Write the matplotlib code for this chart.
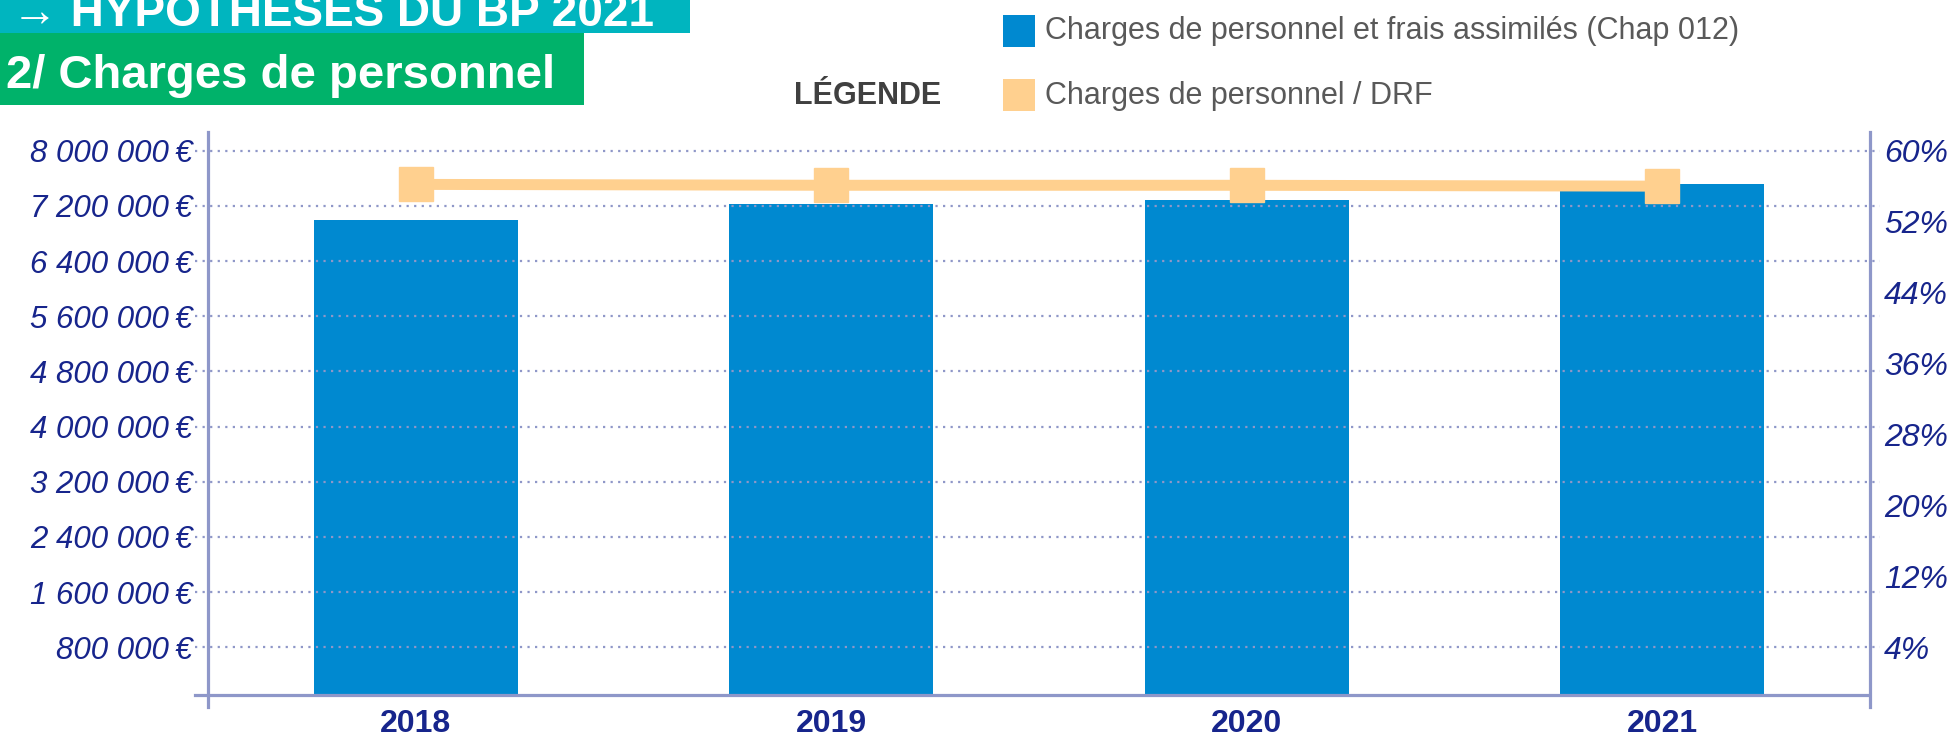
import numpy as np
import matplotlib
matplotlib.use('Agg')
from matplotlib import pyplot as plt
from matplotlib import font_manager
from matplotlib.patches import Rectangle

# values
years = ['2018', '2019', '2020', '2021']
charges = [6995000, 7227000, 7285000, 7517000]     # Chap 012, euros
ratio_drf = [56.2, 56.1, 56.1, 56.0]                # charges de personnel / DRF, %
left_ticks = [800000 * i for i in range(1, 11)]
right_ticks = [4, 12, 20, 28, 36, 44, 52, 60]
legend_labels = ['Charges de personnel et frais assimilés (Chap 012)',
                 'Charges de personnel / DRF']

BLUE = '#0089D0'
ORANGE = '#FFD08F'
NAVY = '#17258C'
AXC = '#8E97C9'
GRID = '#8F97C8'

W, H = 1955, 737
plt.rcParams['font.family'] = ['Liberation Sans', 'DejaVu Sans']

def fx(px):
    return px / W

def fy(py):
    return 1 - py / H

names = {f.name for f in font_manager.fontManager.ttflist}
narrow = 'Liberation Sans Narrow' in names
head_family = ['Liberation Sans Narrow', 'Liberation Sans', 'DejaVu Sans'] if narrow else ['Liberation Sans', 'DejaVu Sans']

fig = plt.figure(figsize=(W / 100, H / 100), dpi=100)
ax = fig.add_axes([fx(208), fy(695), fx(1870) - fx(208), fy(132) - fy(695)])

x = np.arange(len(years))
ax.bar(x, charges, width=0.49, color=BLUE, zorder=2)
ax.set_xlim(-0.5, 3.5)
ax.set_ylim(108000, 8271000)

# dotted gridlines, a little past both axes
ax.hlines(left_ticks, -0.008, 1.006, transform=ax.get_yaxis_transform(),
          colors=GRID, linestyles=(0, (1, 2.4)), lw=1.6, clip_on=False, zorder=3)

ax.set_yticks(left_ticks)
ax.set_yticklabels(['{:,}'.format(v).replace(',', ' ') + '\u2009€' for v in left_ticks],
                   fontstyle='italic', fontsize=22.5, color=NAVY)
ax.tick_params(axis='y', length=0, pad=11)
ax.set_xticks(x)
ax.set_xticklabels(years, fontweight='bold', fontsize=23, color=NAVY)
ax.tick_params(axis='x', length=0, pad=10)

# right axis matched to the left one: 4% on 800 000, 60% on 8 000 000
def to_pct(v):
    return 4 + (v - 800000) / 7200000 * 56

ax2 = ax.twinx()
lo, hi = ax.get_ylim()
ax2.set_ylim(to_pct(lo), to_pct(hi))
ax2.plot(x, ratio_drf, color=ORANGE, lw=7.9, marker='s', ms=23.8,
         solid_capstyle='butt', zorder=4)
ax2.set_yticks(right_ticks)
ax2.set_yticklabels(['%d%%' % t for t in right_ticks],
                    fontstyle='italic', fontsize=23, color=NAVY)
ax2.tick_params(axis='y', length=0, pad=10)

for a in (ax, ax2):
    for s in a.spines.values():
        s.set_visible(False)

h_ax = 695 - 132
w_ax = 1870 - 208
ax.plot([0, 0], [1, -12 / h_ax], transform=ax.transAxes, color=AXC, lw=2.3, clip_on=False, zorder=5)
ax2.plot([1, 1], [1, -12 / h_ax], transform=ax.transAxes, color=AXC, lw=2.3, clip_on=False, zorder=5)
ax.plot([-13 / w_ax, 0.998], [0, 0], transform=ax.transAxes, color=AXC, lw=2.3, clip_on=False, zorder=5)

# header boxes
fig.add_artist(Rectangle((0, fy(33)), fx(690), 1 - fy(33), transform=fig.transFigure,
                         color='#00B5BF', lw=0))
fig.add_artist(Rectangle((0, fy(105)), fx(584), fy(33) - fy(105), transform=fig.transFigure,
                         color='#00B26A', lw=0))
fig.text(fx(12), fy(26), '→ HYPOTHÈSES DU BP 2021', va='baseline', ha='left',
         color='white', fontweight='bold', fontsize=40 if narrow else 33, family=head_family)
fig.text(fx(6), fy(88), '2/ Charges de personnel', va='baseline', ha='left',
         color='white', fontweight='bold', fontsize=40 if narrow else 34, family=head_family)

# legend
fig.text(fx(794), fy(104), 'LÉGENDE', va='baseline', ha='left', color='#404040',
         fontweight='bold', fontsize=22)
for (top, base), col, lab in zip([(15, 39), (79, 104)], [BLUE, ORANGE], legend_labels):
    fig.add_artist(Rectangle((fx(1003), fy(top + 32)), fx(32), fy(top) - fy(top + 32),
                             transform=fig.transFigure, color=col, lw=0))
    fig.text(fx(1045), fy(base), lab, va='baseline', ha='left', color='#595959', fontsize=22)

fig.savefig('out.png', dpi=100)
